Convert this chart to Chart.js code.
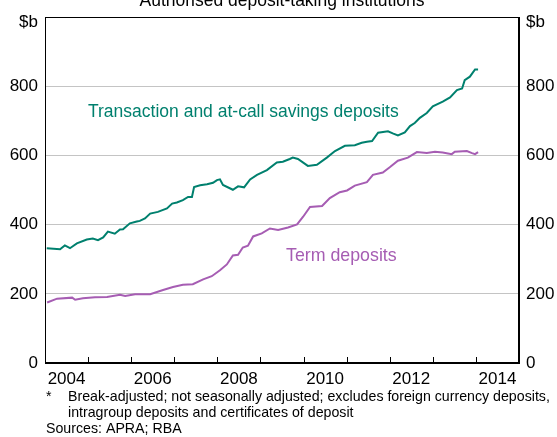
<!DOCTYPE html>
<html>
<head>
<meta charset="utf-8">
<script src="https://cdn.jsdelivr.net/npm/chart.js@4.4.1/dist/chart.umd.min.js"></script>
<style>
  html, body { margin: 0; padding: 0; background: #fff; }
  canvas { display: block; }
</style>
</head>
<body>
<canvas id="c" width="557" height="437"></canvas>
<script>
// ---- Data, $b ----
const txnYears = [2004.04,2004.35,2004.46,2004.58,2004.74,2004.97,2005.11,2005.23,2005.35,2005.46,2005.62,2005.74,2005.81,2005.97,2006.13,2006.20,2006.32,2006.44,2006.62,2006.83,2006.95,2007.06,2007.20,2007.32,2007.41,2007.46,2007.60,2007.76,2007.90,2007.99,2008.06,2008.13,2008.36,2008.48,2008.62,2008.76,2008.92,2009.15,2009.38,2009.52,2009.68,2009.75,2009.87,2010.10,2010.31,2010.54,2010.73,2010.96,2011.19,2011.35,2011.47,2011.59,2011.73,2011.96,2012.07,2012.19,2012.35,2012.47,2012.58,2012.70,2012.86,2013.00,2013.23,2013.40,2013.56,2013.68,2013.74,2013.86,2013.98,2014.05];
const txnValues = [332,329,340,332,346,357,360,355,363,380,374,386,387,404,409,411,418,432,437,447,461,464,471,480,480,509,514,517,521,529,531,515,501,511,508,531,544,558,580,582,590,594,590,570,573,594,613,628,630,637,640,642,666,670,664,658,667,685,694,709,723,742,756,768,789,794,818,828,849,849];

const termYears = [2004.05,2004.28,2004.63,2004.70,2004.88,2005.16,2005.44,2005.74,2005.86,2006.09,2006.44,2006.74,2006.97,2007.20,2007.43,2007.67,2007.87,2008.06,2008.22,2008.36,2008.48,2008.59,2008.71,2008.83,2009.03,2009.22,2009.41,2009.64,2009.85,2009.99,2010.15,2010.43,2010.61,2010.84,2011.01,2011.19,2011.47,2011.61,2011.84,2012.00,2012.19,2012.42,2012.63,2012.86,2013.05,2013.23,2013.44,2013.51,2013.79,2013.91,2013.98,2014.05];
const termValues = [175,186,189,183,187,190,191,197,194,199,199,211,220,226,228,242,251,268,285,311,313,334,339,366,375,389,385,392,401,423,451,454,477,494,499,513,523,544,551,566,585,594,610,607,611,609,604,611,613,607,604,610];

const yearLabels = [2004, 2006, 2008, 2010, 2012, 2014];
const yTicks = [0, 200, 400, 600, 800];
const title = "Authorised deposit-taking institutions";
const txnLabel = "Transaction and at-call savings deposits";
const termLabel = "Term deposits";
const unitLabel = "$b";
const footnotes = [
  "Break-adjusted; not seasonally adjusted; excludes foreign currency deposits,",
  "intragroup deposits and certificates of deposit"
];
const sources = "Sources: APRA; RBA";

const GREEN = '#00806e';
const PURPLE = '#a65db3';
const FONT = '"Liberation Sans", Arial, sans-serif';

const toPts = (xs, ys) => xs.map((x, i) => ({ x: x, y: ys[i] }));

const decor = {
  id: 'decor',
  afterDraw(chart) {
    const ctx = chart.ctx;
    const a = chart.chartArea;
    const xs = chart.scales.x;
    ctx.save();
    // inward year tick marks
    ctx.strokeStyle = '#000';
    ctx.lineWidth = 1;
    ctx.beginPath();
    for (let y = Math.ceil(xs.min) + 1; y < xs.max; y++) {
      const px = Math.round(xs.getPixelForValue(y)) + 0.5;
      ctx.moveTo(px, a.bottom);
      ctx.lineTo(px, a.bottom - 6);
    }
    ctx.stroke();
    // frame
    ctx.strokeRect(Math.round(a.left) + 0.5, Math.round(a.top) + 0.5,
                   Math.round(a.right - a.left) - 1, Math.round(a.bottom - a.top) - 1);
    // title
    ctx.fillStyle = '#000';
    ctx.font = '17.5px ' + FONT;
    ctx.textAlign = 'center';
    ctx.textBaseline = 'alphabetic';
    ctx.fillText(title, (a.left + a.right) / 2, 6);
    // unit labels
    ctx.font = '17px ' + FONT;
    ctx.textAlign = 'right';
    ctx.fillText(unitLabel, a.left - 7, 27);
    ctx.textAlign = 'left';
    ctx.fillText(unitLabel, a.right + 7, 27);
    // series labels
    ctx.font = '17.5px ' + FONT;
    ctx.fillStyle = GREEN;
    ctx.fillText(txnLabel, 88, 117);
    ctx.font = '17.8px ' + FONT;
    ctx.fillStyle = PURPLE;
    ctx.fillText(termLabel, 286, 261);
    // footnotes
    ctx.fillStyle = '#000';
    ctx.font = '14.2px ' + FONT;
    ctx.fillText('*', 46, 401);
    ctx.fillText(footnotes[0], 68, 401);
    ctx.fillText(footnotes[1], 68, 417);
    ctx.fillText(sources, 46, 433);
    ctx.restore();
  }
};

new Chart(document.getElementById('c'), {
  type: 'line',
  data: {
    datasets: [
      { data: toPts(txnYears, txnValues), borderColor: GREEN, borderWidth: 2, pointRadius: 0, tension: 0, fill: false },
      { data: toPts(termYears, termValues), borderColor: PURPLE, borderWidth: 2, pointRadius: 0, tension: 0, fill: false }
    ]
  },
  options: {
    responsive: false,
    animation: false,
    events: [],
    layout: { padding: { top: 13, left: 0, right: 0, bottom: 0 } },
    plugins: { legend: { display: false }, tooltip: { enabled: false }, title: { display: false } },
    scales: {
      x: {
        type: 'linear',
        min: 2004, max: 2015,
        afterBuildTicks: s => { s.ticks = yearLabels.map(v => ({ value: v + 0.5 })); },
        afterFit: s => { s.height = 74; },
        ticks: {
          autoSkip: false, maxRotation: 0, padding: 6,
          color: '#000', font: { size: 17, family: FONT },
          callback: v => String(Math.floor(v))
        },
        grid: { display: false, drawTicks: false },
        border: { display: true, color: '#000', width: 1 }
      },
      y: {
        position: 'left',
        min: 0, max: 1000,
        afterBuildTicks: s => { s.ticks = yTicks.concat([1000]).map(v => ({ value: v })); },
        afterFit: s => { s.width = 45; },
        ticks: {
          padding: 7, color: '#000', font: { size: 17, family: FONT },
          callback: v => (v === 1000 ? '' : String(v))
        },
        grid: { color: '#c4c4c4', lineWidth: 1, drawTicks: false },
        border: { display: true, color: '#000', width: 1 }
      },
      y2: {
        position: 'right',
        min: 0, max: 1000,
        afterBuildTicks: s => { s.ticks = yTicks.concat([1000]).map(v => ({ value: v })); },
        afterFit: s => { s.width = 38; },
        ticks: {
          padding: 7, color: '#000', font: { size: 17, family: FONT },
          callback: v => (v === 1000 ? '' : String(v))
        },
        grid: { display: false, drawTicks: false },
        border: { display: true, color: '#000', width: 1 }
      }
    }
  },
  plugins: [decor]
});
</script>
</body>
</html>
